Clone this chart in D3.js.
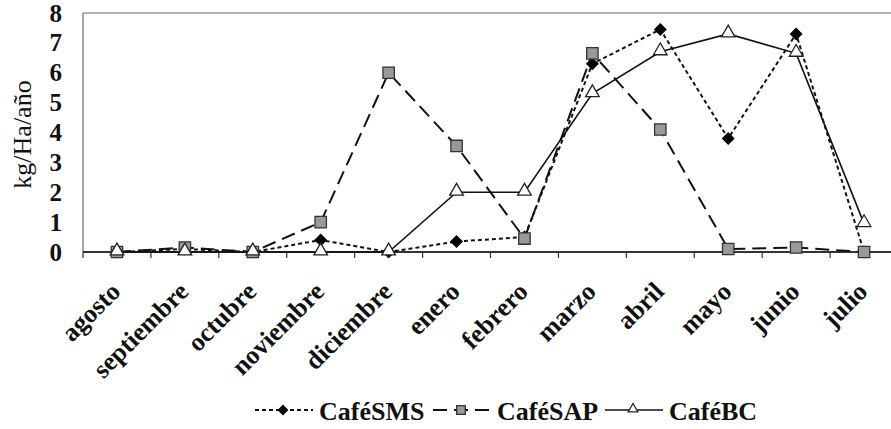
<!DOCTYPE html>
<html><head><meta charset="utf-8">
<script src="https://cdn.jsdelivr.net/npm/d3@7"></script>
<style>body{margin:0;background:#fff}svg{display:block}</style>
</head><body>
<svg id="c" width="891" height="429"></svg>
<script>
const months = ["agosto","septiembre","octubre","noviembre","diciembre","enero","febrero","marzo","abril","mayo","junio","julio"];
const cafeSMS = [0, 0.1, 0, 0.4, 0, 0.35, 0.5, 6.3, 7.45, 3.8, 7.3, 0];
const cafeSAP = [0, 0.15, 0, 1.0, 6.0, 3.55, 0.45, 6.65, 4.1, 0.1, 0.15, 0];
const cafeBC  = [0, 0, 0, 0, 0, 2.0, 2.0, 5.3, 6.7, 7.3, 6.65, 0.95];
const yTicks = [0,1,2,3,4,5,6,7,8];
const seriesNames = ["CaféSMS","CaféSAP","CaféBC"];

const svg = d3.select("#c");
const L = 83, R = 898, T = 13, B = 252;
const x = d3.scaleBand().domain(months).range([L, R]);
const y = d3.scaleLinear().domain([0, 8]).range([B, T]);
const serif = "'Liberation Serif','Times New Roman',serif";

const squareDiamond = {
  draw(ctx, size) {
    const r = Math.sqrt(size / 2);
    ctx.moveTo(0, -r); ctx.lineTo(r, 0); ctx.lineTo(0, r); ctx.lineTo(-r, 0); ctx.closePath();
  }
};

// plot border
svg.append("line").attr("x1", L).attr("x2", 891).attr("y1", T).attr("y2", T).attr("stroke", "#999").attr("stroke-width", 1.5);
svg.append("line").attr("x1", L).attr("x2", L).attr("y1", T).attr("y2", B).attr("stroke", "#888").attr("stroke-width", 1.5);

// y axis labels
const ya = svg.append("g").attr("transform", `translate(${L},0)`)
  .call(d3.axisLeft(y).tickValues(yTicks).tickSize(0).tickPadding(21).tickFormat(d3.format("d")));
ya.select(".domain").remove();
ya.selectAll("text").attr("font-family", serif).attr("font-size", 25).attr("font-weight", "bold").attr("fill", "#111");

svg.append("text").attr("transform", `translate(31,${(T+B)/2 + 2}) rotate(-90)`)
  .attr("text-anchor", "middle").attr("font-family", serif).attr("font-size", 26).attr("fill", "#111").text("kg/Ha/año");

// x axis
const xTickScale = d3.scaleLinear().domain([0, 12]).range([L, R]);
const xa = svg.append("g").attr("transform", `translate(0,${B})`);
xa.append("line").attr("x1", L).attr("x2", 891).attr("stroke", "#333").attr("stroke-width", 1.8);
xa.selectAll(".tk").data(d3.range(0, 13)).join("line")
  .attr("x1", d => xTickScale(d)).attr("x2", d => xTickScale(d)).attr("y1", 0).attr("y2", 6)
  .attr("stroke", "#333").attr("stroke-width", 1.2);
xa.selectAll(".lb").data(months).join("text")
  .attr("transform", d => `translate(${x(d) + x.bandwidth()/2 + 5},${41}) rotate(-45)`)
  .attr("text-anchor", "end").attr("font-family", serif).attr("font-size", 26).attr("font-weight", "bold")
  .attr("fill", "#111").text(d => d);

const cx = d => x(d) + x.bandwidth()/2;
const line = d3.line().x((d, i) => cx(months[i])).y(d => y(d));

const specs = [
  {name: seriesNames[0], data: cafeSMS, dash: "4,3", w: 2, sym: squareDiamond, size: 62, lsize: 40, fill: "#000", stroke: "#000"},
  {name: seriesNames[1], data: cafeSAP, dash: "14,7", w: 2, sym: d3.symbolSquare, size: 130, lsize: 75, fill: "#999", stroke: "#333"},
  {name: seriesNames[2], data: cafeBC, dash: null, w: 1.6, sym: d3.symbolTriangle, size: 80, lsize: 40, fill: "#fff", stroke: "#222"}
];

const plot = svg.append("g");
specs.forEach(s => {
  plot.append("path").datum(s.data).attr("d", line).attr("fill", "none")
    .attr("stroke", "#111").attr("stroke-width", s.w).attr("stroke-dasharray", s.dash);
});
specs.forEach(s => {
  plot.selectAll(null).data(s.data).join("path")
    .attr("transform", (d, i) => `translate(${cx(months[i])},${y(d) + (s.sym === d3.symbolTriangle ? -1 : 0)})`)
    .attr("d", d3.symbol().type(s.sym).size(s.size))
    .attr("fill", s.fill).attr("stroke", s.stroke).attr("stroke-width", 1.3);
});

// legend
const legendX = [255, 433, 605];
const ly = 410;
specs.forEach((s, i) => {
  const g = svg.append("g").attr("transform", `translate(${legendX[i]},${ly})`);
  g.append("line").attr("x1", 0).attr("x2", 58).attr("stroke", "#111").attr("stroke-width", s.w).attr("stroke-dasharray", s.dash);
  g.append("path").attr("transform", `translate(28,${s.sym === d3.symbolTriangle ? -1 : 0})`)
    .attr("d", d3.symbol().type(s.sym).size(s.lsize))
    .attr("fill", s.fill).attr("stroke", s.stroke).attr("stroke-width", 1.3);
  g.append("text").attr("x", 64).attr("y", 10).attr("font-family", serif).attr("font-size", 26)
    .attr("font-weight", "bold").attr("fill", "#111").text(s.name);
});
</script>
</body></html>
